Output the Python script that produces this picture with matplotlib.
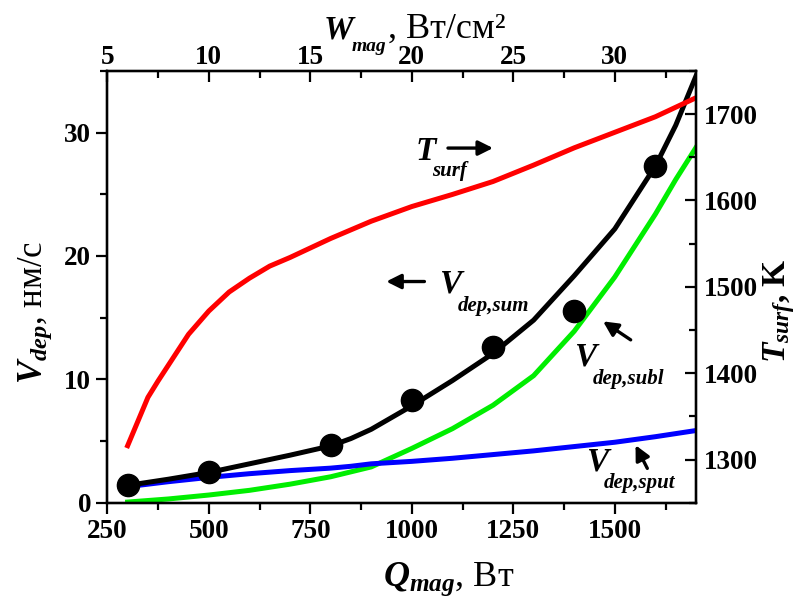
import matplotlib
matplotlib.use('Agg')
import matplotlib.pyplot as plt
from matplotlib.ticker import MultipleLocator
from matplotlib.transforms import offset_copy

plt.rcParams['font.family'] = 'Liberation Serif'
plt.rcParams['mathtext.fontset'] = 'custom'
plt.rcParams['mathtext.rm'] = 'Liberation Serif'
plt.rcParams['mathtext.it'] = 'Liberation Serif:italic:bold'
plt.rcParams['mathtext.bf'] = 'Liberation Serif:bold'

# measured deposition rate, nm/s
q_exp = [300, 500, 800, 1000, 1200, 1400, 1600]
v_exp = [1.45, 2.45, 4.65, 8.3, 12.6, 15.55, 27.3]

# calculated rates, nm/s
q_calc = [300, 400, 500, 600, 700, 800, 850, 900, 1000, 1100, 1200, 1300, 1400, 1500, 1600, 1650, 1700]
v_sum = [1.4, 1.9, 2.45, 3.15, 3.85, 4.6, 5.2, 5.95, 7.85, 9.9, 12.1, 14.8, 18.4, 22.2, 27.3, 30.6, 34.6]
v_subl = [0.05, 0.3, 0.62, 1.0, 1.5, 2.1, 2.5, 2.9, 4.4, 6.0, 7.9, 10.3, 13.9, 18.3, 23.4, 26.2, 28.8]
v_sput = [1.3, 1.7, 2.05, 2.35, 2.6, 2.8, 2.95, 3.15, 3.35, 3.6, 3.9, 4.2, 4.55, 4.9, 5.35, 5.6, 5.85]

# target surface temperature, K
q_t = [300, 325, 350, 375, 400, 450, 500, 550, 600, 650, 700, 800, 900, 1000, 1100, 1200, 1300, 1400, 1500, 1600, 1700]
t_surf = [1316, 1344, 1372, 1391, 1409, 1445, 1472, 1494, 1510, 1524, 1534, 1556, 1576, 1593, 1607, 1622, 1641, 1661, 1679, 1697, 1719]

area = 50.0  # cm^2, W = Q / area

fig = plt.figure(figsize=(8.07, 6.01), dpi=100)
ax = fig.add_axes([0.133, 0.1636, 0.7295, 0.7183])
axT = ax.twinx()
axW = ax.twiny()

lw = 3.6
ax.plot(q_calc, v_subl, color='#00ee00', lw=lw, zorder=2)
ax.plot(q_calc, v_sput, color='#0000ff', lw=lw, zorder=3)
ax.plot(q_calc, v_sum, color='k', lw=lw, zorder=4)
ax.plot(q_exp, v_exp, 'o', color='k', ms=16, zorder=5)
axT.plot(q_t, t_surf, color='#ff0000', lw=lw)

ax.set_xlim(250, 1700)
ax.set_ylim(0, 35)
axT.set_ylim(1250, 1750)
axW.set_xlim(250 / area, 1700 / area)

ax.xaxis.set_major_locator(MultipleLocator(250))
ax.xaxis.set_minor_locator(MultipleLocator(125))
ax.yaxis.set_major_locator(MultipleLocator(10))
ax.yaxis.set_minor_locator(MultipleLocator(5))
axT.yaxis.set_major_locator(MultipleLocator(100))
axT.yaxis.set_minor_locator(MultipleLocator(50))
axW.xaxis.set_major_locator(MultipleLocator(5))
axW.xaxis.set_minor_locator(MultipleLocator(2.5))

tick_fs = 19.5
for a in (ax, axT, axW):
    for s in a.spines.values():
        s.set_linewidth(1.6)
ax.tick_params(axis='x', which='major', pad=4)
ax.tick_params(axis='both', which='major', direction='out', length=8, width=1.6,
               labelsize=tick_fs, top=False, right=False)
ax.tick_params(axis='both', which='minor', direction='out', length=5, width=1.6,
               top=False, right=False)
axT.tick_params(axis='y', which='major', direction='in', length=8, width=1.6, labelsize=tick_fs, pad=6)
axT.tick_params(axis='y', which='minor', direction='in', length=5, width=1.6)
axW.tick_params(axis='x', which='major', direction='in', length=8, width=1.6, labelsize=tick_fs, pad=0.5)
axW.tick_params(axis='x', which='minor', direction='in', length=5, width=1.6)
for a in (ax, axT, axW):
    for lab in a.get_xticklabels() + a.get_yticklabels():
        lab.set_fontweight('bold')

ax.set_xlabel(r'$Q_{mag}$, Вт', fontsize=26)
ax.xaxis.set_label_coords(0.58, -0.135)
ax.set_ylabel(r'$V_{dep}$, нм/с', fontsize=25)
ax.yaxis.set_label_coords(-0.09, 0.44)
axT.set_ylabel(r'$T_{surf}$, K', fontsize=24, fontweight='bold')
axT.yaxis.set_label_coords(1.11, 0.445)

# top axis title built from pieces: symbol, lowered subscript, units
w_main = axW.text(0.367, 1.076, 'W', transform=axW.transAxes, fontsize=24,
                  style='italic', weight='bold', va='baseline')
w_sub = axW.annotate('mag', xy=(1, 0), xycoords=w_main, xytext=(-1, -4.5),
                     textcoords='offset points', fontsize=14, style='italic',
                     weight='bold', va='baseline')
axW.annotate(', Вт/см²', xy=(1, 0), xycoords=w_sub, xytext=(1, 12.5),
             textcoords='offset points', fontsize=26, va='baseline')


def curve_label(x, y, main, sub, dx, dy):
    # big italic symbol with a lowered small subscript
    ax.text(x, y, main, fontsize=24, style='italic', weight='bold')
    tr = offset_copy(ax.transData, fig=fig, x=dx, y=dy, units='points')
    ax.text(x, y, sub, transform=tr, fontsize=15, style='italic', weight='bold')


arrow = dict(arrowstyle='-|>', color='k', lw=2.4, mutation_scale=22, shrinkA=0, shrinkB=0)
curve_label(1009, 27.8, 'T', 'surf', 12, -12)
ax.annotate('', xy=(1200, 28.75), xytext=(1089, 28.75), arrowprops=arrow)
curve_label(1068, 17.0, 'V', 'dep,sum', 13, -13)
ax.annotate('', xy=(937, 17.93), xytext=(1031, 17.93), arrowprops=arrow)
curve_label(1400, 11.1, 'V', 'dep,subl', 13, -13)
ax.annotate('', xy=(1471, 14.7), xytext=(1539, 13.2), arrowprops=arrow)
curve_label(1428, 2.64, 'V', 'dep,sput', 13, -13)
ax.annotate('', xy=(1551, 4.66), xytext=(1580, 2.78), arrowprops=arrow)

fig.savefig('out.png', dpi=100)
